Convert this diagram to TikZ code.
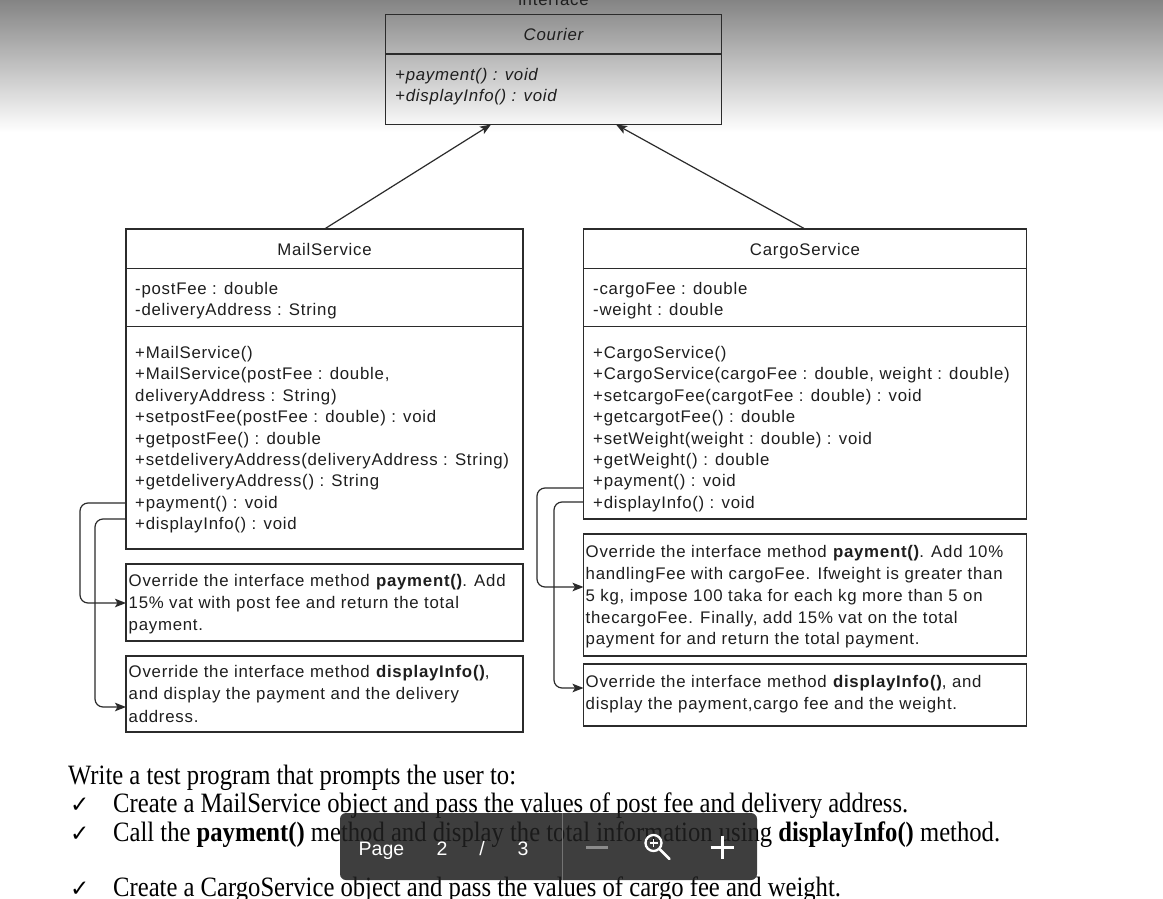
\documentclass[tikz,border=0pt]{standalone}
\usepackage{fontspec}
\setmainfont{Liberation Serif}
\newfontfamily\umlfont{Liberation Sans}[LetterSpace=4.5]
\newfontfamily\docfont{Liberation Serif}[FakeStretch=0.88]
\newfontfamily\uifont{Liberation Sans}
\newfontfamily\symfont{DejaVu Sans}
\usetikzlibrary{arrows.meta}
\definecolor{gtop}{HTML}{848484}
\definecolor{lc}{HTML}{2b2b2b}
\definecolor{tc}{HTML}{1e1e1e}
\tikzset{
  umlbox/.style={draw=lc, line width=1.2pt, inner sep=0pt, outer sep=0pt, anchor=north west},
  umlline/.style={anchor=base west, inner sep=0pt, text=tc, font=\umlfont\fontsize{16.8}{20}\selectfont},
  umltitle/.style={anchor=base, inner sep=0pt, text=tc, font=\umlfont\fontsize{16.8}{20}\selectfont},
  divider/.style={draw=lc, line width=1.2pt},
  inh/.style={draw=lc, line width=1.2pt, -{Stealth[length=11pt,width=8.5pt,inset=2.5pt]}},
  conn/.style={draw=lc, line width=1.2pt, rounded corners=8pt, -{Stealth[length=11pt,width=8.5pt,inset=2.5pt]}},
  docline/.style={anchor=base west, inner sep=0pt, text=black, font=\docfont\fontsize{28}{32}\selectfont},
  tick/.style={anchor=base west, inner sep=0pt, text=black, font=\symfont\fontsize{23}{26}\selectfont},
  toolbar/.style={fill=black!88, fill opacity=0.86, rounded corners=6pt, inner sep=0pt, outer sep=0pt, anchor=north west, minimum width=417pt, minimum height=67pt},
  uitext/.style={anchor=base, inner sep=0pt, text=white, font=\uifont\fontsize{19.5}{22}\selectfont},
}
\begin{document}
\begin{tikzpicture}[x=1pt,y=-1pt]
\useasboundingbox (0,0) rectangle (1163,899);
\clip (0,0) rectangle (1163,899);
\fill[white] (0,0) rectangle (1163,899);
\shade[top color=gtop, bottom color=white] (0,0) rectangle (1163,132);

% ---------- Courier interface ----------
\node[umltitle] (ilabel) at (553.5,5.5) {interface};
\node[umlbox, minimum width=336pt, minimum height=110pt] (courier) at (385.5,14.5) {};
\draw[divider] (385.5,54) -- (721.5,54);
\node[umltitle, font=\umlfont\itshape\fontsize{16.8}{20}\selectfont] (ctitle) at (553.5,40.7) {Courier};
\node[umlline, font=\umlfont\itshape\fontsize{16.8}{20}\selectfont] (cm1) at (395,81) {+payment() : void};
\node[umlline, font=\umlfont\itshape\fontsize{16.8}{20}\selectfont] (cm2) at (395,101.7) {+displayInfo() : void};

% ---------- MailService ----------
\node[umlbox, minimum width=397pt, minimum height=320pt] (mail) at (126,229) {};
\draw[divider] (126,268.3) -- (523,268.3);
\draw[divider] (126,326.7) -- (523,326.7);
\node[umltitle] (mtitle) at (324.5,255) {MailService};
\node[umlline] (ma1) at (135,294.5) {-postFee : double};
\node[umlline] (ma2) at (135,315.9) {-deliveryAddress : String};
\foreach \t [count=\i from 0] in {
  {+MailService()},
  {+MailService(postFee : double,},
  {deliveryAddress : String)},
  {+setpostFee(postFee : double) : void},
  {+getpostFee() : double},
  {+setdeliveryAddress(deliveryAddress : String)},
  {+getdeliveryAddress() : String},
  {+payment() : void},
  {+displayInfo() : void}}
  \node[umlline] (mm\i) at (135,358.5+21.4*\i) {\t};

% ---------- CargoService ----------
\node[umlbox, minimum width=443pt, minimum height=290pt] (cargo) at (583.5,229) {};
\draw[divider] (583.5,268.3) -- (1026.5,268.3);
\draw[divider] (583.5,326.7) -- (1026.5,326.7);
\node[umltitle] (ktitle) at (805,255) {CargoService};
\node[umlline] (ka1) at (593,294.5) {-cargoFee : double};
\node[umlline] (ka2) at (593,315.9) {-weight : double};
\foreach \t [count=\i from 0] in {
  {+CargoService()},
  {+CargoService(cargoFee : double, weight : double)},
  {+setcargoFee(cargotFee : double) : void},
  {+getcargotFee() : double},
  {+setWeight(weight : double) : void},
  {+getWeight() : double},
  {+payment() : void},
  {+displayInfo() : void}}
  \node[umlline] (km\i) at (593,358.5+21.4*\i) {\t};

% ---------- notes ----------
\node[umlbox, minimum width=397pt, minimum height=77pt] (mn1) at (126,564) {};
\foreach \t [count=\i from 0] in {
  {Override the interface method \textbf{payment()}. Add},
  {15\% vat with post fee and return the total},
  {payment.}}
  \node[umlline] (mn1l\i) at (128.5,586+22.4*\i) {\t};
\node[umlbox, minimum width=397pt, minimum height=76pt] (mn2) at (126,656) {};
\foreach \t [count=\i from 0] in {
  {Override the interface method \textbf{displayInfo()},},
  {and display the payment and the delivery},
  {address.}}
  \node[umlline] (mn2l\i) at (128.5,677.5+22.3*\i) {\t};

\node[umlbox, minimum width=443pt, minimum height=122pt] (kn1) at (583.5,534) {};
\foreach \t [count=\i from 0] in {
  {Override the interface method \textbf{payment()}. Add 10\%},
  {handlingFee with cargoFee. Ifweight is greater than},
  {5 kg, impose 100 taka for each kg more than 5 on},
  {thecargoFee. Finally, add 15\% vat on the total},
  {payment for and return the total payment.}}
  \node[umlline] (kn1l\i) at (585.5,557.3+21.9*\i) {\t};
\node[umlbox, minimum width=443pt, minimum height=62pt] (kn2) at (583.5,664) {};
\foreach \t [count=\i from 0] in {
  {Override the interface method \textbf{displayInfo()}, and},
  {display the payment,cargo fee and the weight.}}
  \node[umlline] (kn2l\i) at (585.5,687.3+22.5*\i) {\t};

% ---------- connectors ----------
\coordinate (cl) at (491,124.5);
\coordinate (cr) at (616,124.5);
\draw[inh] (mail.north) -- (cl);
\draw[inh] (cargo.north) -- (cr);

\coordinate (mpS) at (126,503);
\coordinate (mpT) at (126,603);
\coordinate (mdS) at (126,519);
\coordinate (mdT) at (126,707);
\draw[conn] (mpS) -- (80,503) -- (80,603) -- (mpT);
\draw[conn] (mdS) -- (95,519) -- (95,707) -- (mdT);

\coordinate (kpS) at (583.5,488);
\coordinate (kpT) at (583.5,587);
\coordinate (kdS) at (583.5,502);
\coordinate (kdT) at (583.5,688);
\draw[conn] (kpS) -- (537,488) -- (537,587) -- (kpT);
\draw[conn] (kdS) -- (554,502) -- (554,688) -- (kdT);

% ---------- document text ----------
\node[docline] (d0) at (68,784) {Write a test program that prompts the user to:};
\node[tick] (t1) at (70,812) {✓};
\node[docline] (d1) at (113,812) {Create a MailService object and pass the values of post fee and delivery address.};
\node[tick] (t2) at (70,841) {✓};
\node[docline] (d2) at (113,841) {Call the \textbf{payment()} method and display the total information using \textbf{displayInfo()} method.};
\node[tick] (t3) at (70,896) {✓};
\node[docline] (d3) at (113,896) {Create a CargoService object and pass the values of cargo fee and weight.};

% ---------- viewer toolbar ----------
\node[toolbar] (tb) at (340,813) {};
\draw[black!55, line width=1pt] (562,813) -- (562,880);
\node[uitext] (pg) at (381.5,855) {Page};
\node[uitext] (p2) at (442,855) {2};
\node[uitext] (ps) at (482,855) {/};
\node[uitext] (p3) at (523,855) {3};
\draw[black!45, line width=3pt] (586,847) -- (607.5,847);
\draw[white, line width=2.3pt] (653.5,843) circle (8pt);
\draw[white, line width=1.7pt] (649.5,843) -- (657.5,843) (653.5,839) -- (653.5,847);
\draw[white, line width=2.8pt, line cap=round] (659.8,849.3) -- (669.5,859);
\draw[white, line width=3pt] (710.5,847) -- (733.5,847) (722,835.5) -- (722,858.5);
\end{tikzpicture}
\end{document}
